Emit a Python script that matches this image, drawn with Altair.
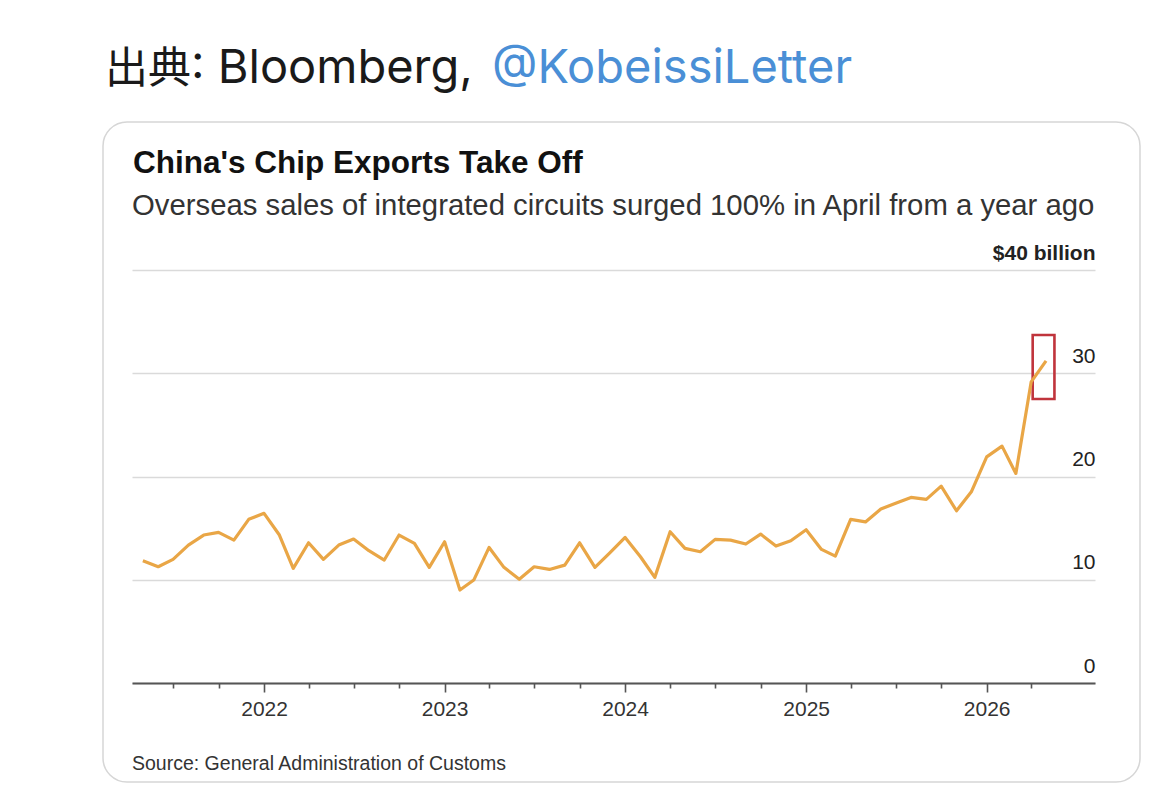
import altair as alt
import pandas as pd

# ---- data -------------------------------------------------------------
months = pd.date_range("2021-05-01", "2026-05-01", freq="MS").strftime("%Y-%m-%d").tolist()
exports = [
    11.84, 11.26, 11.97, 13.36, 14.33, 14.59, 13.84, 15.85,            # 2021 May-Dec
    16.43, 14.33, 11.10, 13.58, 11.97, 13.36, 13.94, 12.81, 11.91, 14.33, 13.52, 11.20,  # 2022
    13.68, 9.00, 9.97, 13.13, 11.20, 10.04, 11.26, 11.00, 11.42, 13.58, 11.20, 12.61,    # 2023
    14.10, 12.23, 10.23, 14.65, 13.04, 12.71, 13.91, 13.84, 13.46, 14.42, 13.26, 13.78,  # 2024
    14.85, 12.94, 12.29, 15.85, 15.60, 16.85, 17.40, 17.97, 17.78, 19.07, 16.68, 18.52,  # 2025
    21.90, 22.94, 20.30, 29.17, 31.20,                                     # 2026 Jan-May
]
y_ticks = [0, 10, 20, 30, 40]
quarter_ticks = pd.date_range("2021-07-01", "2026-04-01", freq="QS-JAN").strftime("%Y-%m-%d").tolist()

box_start = ["2026-04-04"]
box_end = ["2026-05-18"]
box_low = [27.5]
box_high = [33.7]

header_cjk = "出典"
header_black = ": Bloomberg,"
header_blue = "@KobeissiLetter"
title_text = "China's Chip Exports Take Off"
subtitle_text = "Overseas sales of integrated circuits surged 100% in April from a year ago"
source_text = "Source: General Administration of Customs"

# ---- helpers ----------------------------------------------------------
tick_ms = [int(pd.Timestamp(d, tz="UTC").timestamp() * 1000) for d in quarter_ticks]
FONT = "Liberation Sans"

x_scale = alt.Scale(
    type="utc",
    domain=[alt.DateTime(year=2021, month=4, date=9, utc=True),
            alt.DateTime(year=2026, month=8, date=8, utc=True)],
)
y_scale = alt.Scale(domain=[0, 40], nice=False)

x_axis = alt.Axis(
    values=tick_ms,
    labelExpr="utcmonth(datum.value) == 0 ? utcFormat(datum.value, '%Y') : ''",
    tickSize={"condition": {"test": "utcmonth(datum.value) == 0", "value": 9}, "value": 5},
    tickColor="#555555", tickWidth=1.6,
    domainColor="#555555", domainWidth=2.2,
    labelFont=FONT, labelFontSize=21, labelColor="#333333",
    labelPadding=6, labelBaseline="top",
    labelOverlap=False, labelFlush=False, grid=False, title=None,
)
y_axis = alt.Axis(
    orient="right", values=y_ticks,
    labelExpr="datum.value == 40 ? '$40 billion' : datum.label",
    ticks=False, domain=False,
    grid=True, gridColor="#dadada", gridWidth=1.6,
    labelAlign="right", labelBaseline="alphabetic", labelOffset=-11, labelPadding=0,
    labelFont=FONT, labelFontSize=21, labelColor="#222222",
    labelFontWeight={"condition": {"test": "datum.value == 40", "value": "bold"}, "value": "normal"},
    title=None,
)

line_df = pd.DataFrame({"month": months, "value": exports})
box_df = pd.DataFrame({"start": box_start, "end": box_end, "low": box_low, "high": box_high})

card = alt.Chart(pd.DataFrame({"k": [0]})).mark_rect(
    fill=None, stroke="#d6d6d6", strokeWidth=1.5, cornerRadius=24
).encode(x=alt.value(-29), x2=alt.value(1008), y=alt.value(-148), y2=alt.value(512))

line = alt.Chart(line_df).mark_line(color="#E9A646", strokeWidth=3.2, strokeJoin="round").encode(
    x=alt.X("month:T", scale=x_scale, axis=x_axis),
    y=alt.Y("value:Q", scale=y_scale, axis=y_axis),
)

box = alt.Chart(box_df).mark_rect(fill=None, stroke="#C0343C", strokeWidth=2.6).encode(
    x=alt.X("start:T", scale=x_scale, axis=x_axis),
    x2="end:T",
    y=alt.Y("low:Q", scale=y_scale, axis=y_axis),
    y2="high:Q",
)


def text_layer(txt, x, y, size, color, weight="normal", font=FONT):
    return alt.Chart(pd.DataFrame({"t": [txt]})).mark_text(
        align="left", baseline="alphabetic", font=font, fontSize=size,
        color=color, fontWeight=weight,
    ).encode(x=alt.value(x), y=alt.value(y), text="t:N")


HFONT = "Inter, Noto Sans CJK JP, sans-serif"
head0 = text_layer(header_cjk, -27, -187, 43, "#1a1a1a", font="Noto Sans CJK JP")
head1 = text_layer(header_black, 59, -187, 47, "#1a1a1a", font=HFONT)
head2 = text_layer(header_blue, 360, -187, 47, "#4A8FD6", font=HFONT)
title = text_layer(title_text, 1, -97, 31.5, "#111111", weight="bold")
subtitle = text_layer(subtitle_text, 0, -55, 29.3, "#333333")
source = text_layer(source_text, 0, 500, 19.5, "#333333")

chart = alt.layer(card, box, line, head0, head1, head2, title, subtitle, source).properties(
    width=963, height=413,
    padding={"left": 124, "top": 262, "right": 60, "bottom": 108},
    autosize="none",
    background="white",
).configure_view(stroke=None)

chart.save("out.html", embed_options={"renderer": "svg", "actions": False})
